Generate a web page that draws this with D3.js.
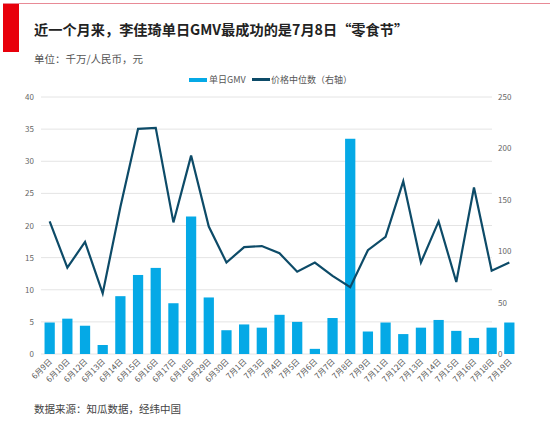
<!DOCTYPE html><html><head><meta charset="utf-8"><script src="https://cdn.jsdelivr.net/npm/d3@7"></script>
<style>body{margin:0;background:#fff}text{font-family:"Noto Sans CJK SC","Noto Sans",sans-serif}</style></head><body><svg width="550" height="422"></svg><script>
const categories=["6月9日","6月10日","6月12日","6月13日","6月14日","6月15日","6月16日","6月17日","6月18日","6月29日","6月30日","7月1日","7月3日","7月4日","7月5日","7月6日","7月7日","7月8日","7月9日","7月11日","7月12日","7月13日","7月14日","7月15日","7月16日","7月18日","7月19日"];
const gmv=[4.9,5.5,4.4,1.4,9.0,12.3,13.4,7.9,21.4,8.8,3.7,4.6,4.1,6.1,5.0,0.8,5.6,33.5,3.5,4.9,3.1,4.1,5.3,3.6,2.5,4.1,4.9];
const price=[129,84,109,59,143,219,220,128,193,124,89,104,105,98,80,89,76,65,101,114,168,89,129,70,162,81,89];
const leftTicks=[0,5,10,15,20,25,30,35,40];
const rightTicks=[0,50,100,150,200,250];
const svg=d3.select("svg");
svg.append("rect").attr("x",3).attr("y",4).attr("width",16).attr("height",48).attr("fill","#e8000b");
svg.append("line").attr("x1",3).attr("x2",550).attr("y1",3.5).attr("y2",3.5).attr("stroke","#e88a96");
svg.append("text").attr("x",34).attr("y",35).attr("font-size",14.2).attr("font-weight","bold").attr("fill","#222").text("近一个月来，李佳琦单日GMV最成功的是7月8日“零食节”");
svg.append("text").attr("x",34).attr("y",63).attr("font-size",10.5).attr("fill","#555").text("单位：千万/人民币，元");
svg.append("text").attr("x",34).attr("y",413).attr("font-size",10.5).attr("fill","#444").text("数据来源：知瓜数据，经纬中国");
const x=d3.scaleBand().domain(categories).range([41,518]).paddingInner(0.42).paddingOuter(0.2);
const yL=d3.scaleLinear().domain([0,40]).range([354,97]);
const yR=d3.scaleLinear().domain([0,250]).range([354,97]);
const g=svg.append("g");
g.selectAll(".gl").data(leftTicks).join("line").attr("x1",41).attr("x2",492).attr("y1",d=>yL(d)).attr("y2",d=>yL(d)).attr("stroke","#e4e4e4");
g.selectAll(".lt").data(leftTicks).join("text").attr("x",34).attr("y",d=>yL(d)+3).attr("text-anchor","end").attr("font-size",8).attr("fill","#666").text(d=>d);
g.selectAll(".rt").data(rightTicks).join("text").attr("x",498).attr("y",d=>yR(d)+3).attr("font-size",8).attr("fill","#666").text(d=>d);
g.selectAll(".b").data(gmv).join("rect").attr("x",(d,i)=>x(categories[i])).attr("width",x.bandwidth()).attr("y",d=>yL(d)).attr("height",d=>354-yL(d)).attr("fill","#05a9e6");
g.append("path").datum(price).attr("fill","none").attr("stroke","#0d4b68").attr("stroke-width",2.2).attr("d",d3.line().x((d,i)=>x(categories[i])+x.bandwidth()/2).y(d=>yR(d)));
g.selectAll(".xl").data(categories).join("text").attr("font-size",8).attr("fill","#555").attr("text-anchor","end")
 .attr("transform",d=>`translate(${x(d)+x.bandwidth()/2+3},${362}) rotate(-45)`).text(d=>d);
const lg=svg.append("g");
lg.append("rect").attr("x",189).attr("y",78).attr("width",18).attr("height",4).attr("fill","#05a9e6");
lg.append("text").attr("x",209).attr("y",83).attr("font-size",9).attr("fill","#555").text("单日GMV");
lg.append("rect").attr("x",252).attr("y",78).attr("width",18).attr("height",3).attr("fill","#0d4b68");
lg.append("text").attr("x",271).attr("y",83).attr("font-size",9).attr("fill","#555").text("价格中位数（右轴）");
</script></body></html>
